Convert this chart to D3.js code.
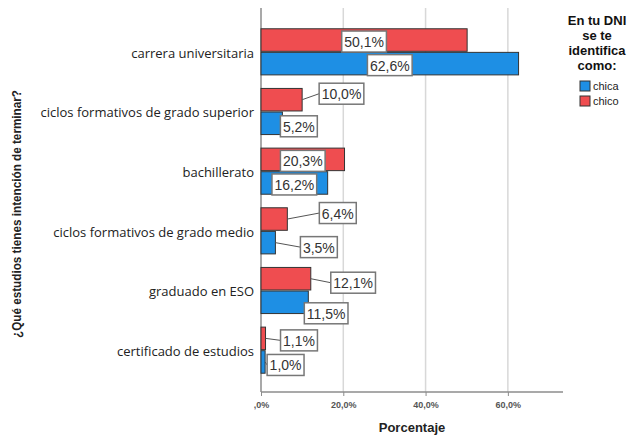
<!DOCTYPE html>
<html>
<head>
<meta charset="utf-8">
<script src="https://cdn.jsdelivr.net/npm/d3@7"></script>
<style>
  html, body { margin: 0; padding: 0; background: #fff; }
  svg { display: block; }
</style>
</head>
<body>
<div id="chart"></div>
<script>
// Intended studies by gender (percent of each group)
const categories = [
  "carrera universitaria",
  "ciclos formativos de grado superior",
  "bachillerato",
  "ciclos formativos de grado medio",
  "graduado en ESO",
  "certificado de estudios"
];
const seriesNames = ["chico", "chica"];
const chicoValues = [50.1, 10.0, 20.3, 6.4, 12.1, 1.1];
const chicaValues = [62.6, 5.2, 16.2, 3.5, 11.5, 1.0];
const tickValues = [0, 20, 40, 60];
const tickLabels = [",0%", "20,0%", "40,0%", "60,0%"];
const legendOrder = ["chica", "chico"];

// Label nudges for bars too short to hold their label: [dx from bar end, dy from bar centre]
const chicoNudge = [null, [17, -6], null, [32, -6], [20, 4], [15, 2]];
const chicaNudge = [null, [-2, 3], null, [25, 4.5], [-4, 11], [2, 3]];

const colors = { chica: "#1e8fe4", chico: "#ef4d50" };

const W = 634, H = 439;
const plot = { left: 261, right: 563, top: 8, bottom: 392 };

const svg = d3.select("#chart").append("svg")
  .attr("width", W).attr("height", H);

const x = d3.scaleLinear().domain([0, 73.4]).range([plot.left, plot.right]);
const y = d3.scaleBand().domain(categories)
  .range([22, 380]).paddingInner(0.227).paddingOuter(0.1135);
const ySub = d3.scaleBand().domain(seriesNames)
  .range([0, y.bandwidth()]).paddingInner(0.045);

// gridlines
svg.append("g").selectAll("line")
  .data(tickValues.filter(d => d > 0))
  .join("line")
  .attr("x1", d => x(d)).attr("x2", d => x(d))
  .attr("y1", plot.top).attr("y2", plot.bottom)
  .attr("stroke", "#d8d8d8").attr("stroke-width", 1.5);

// x axis
const xAxis = d3.axisBottom(x)
  .tickValues(tickValues)
  .tickFormat((d, i) => tickLabels[i])
  .tickSize(4).tickPadding(6);
const gx = svg.append("g")
  .attr("transform", `translate(0,${plot.bottom})`)
  .call(xAxis);
gx.select(".domain").attr("stroke", "#8c8c8c").attr("stroke-width", 1.5)
  .attr("d", `M${plot.left},0H${plot.right}`);
gx.selectAll(".tick line").attr("stroke", "#8c8c8c");
gx.selectAll(".tick text")
  .attr("font-family", "Liberation Sans, Arial, sans-serif")
  .attr("font-size", 9).attr("font-weight", "bold").attr("fill", "#555");

// y axis line
svg.append("line")
  .attr("x1", plot.left).attr("x2", plot.left)
  .attr("y1", plot.top).attr("y2", plot.bottom)
  .attr("stroke", "#8c8c8c").attr("stroke-width", 1.5);

// category labels
const yAxis = d3.axisLeft(y).tickSize(0).tickPadding(7);
const gy = svg.append("g").attr("transform", `translate(${plot.left},1.5)`).call(yAxis);
gy.select(".domain").remove();
gy.selectAll(".tick text")
  .attr("font-family", "Open Sans, sans-serif")
  .attr("font-size", 13).attr("fill", "#222");

// bars
const rows = categories.map((c, i) => ({
  cat: c,
  items: [
    { s: "chico", v: chicoValues[i], nudge: chicoNudge[i] },
    { s: "chica", v: chicaValues[i], nudge: chicaNudge[i] }
  ]
}));

const groups = svg.append("g").selectAll("g")
  .data(rows).join("g")
  .attr("transform", d => `translate(0,${y(d.cat)})`);

groups.selectAll("rect")
  .data(d => d.items).join("rect")
  .attr("x", x(0))
  .attr("y", d => ySub(d.s))
  .attr("width", d => x(d.v) - x(0))
  .attr("height", ySub.bandwidth())
  .attr("fill", d => colors[d.s])
  .attr("stroke", "#333").attr("stroke-width", 1);

// value labels
const fmt = v => v.toFixed(1).replace(".", ",") + "%";
const labels = groups.selectAll("g.lbl")
  .data(d => d.items).join("g").attr("class", "lbl");

labels.each(function(d) {
  const g = d3.select(this);
  const txt = g.append("text")
    .text(fmt(d.v))
    .attr("font-family", "Liberation Sans, Arial, sans-serif")
    .attr("font-size", 14).attr("fill", "#333")
    .attr("dominant-baseline", "central")
    .attr("text-anchor", "middle");
  const tw = txt.node().getComputedTextLength();
  const bw = tw + 5, bh = 21;
  const barEnd = x(d.v);
  const barMid = ySub(d.s) + ySub.bandwidth() / 2;
  let cx, cy;
  if (d.nudge) {
    const left = barEnd + d.nudge[0];
    cx = left + bw / 2;
    cy = barMid + d.nudge[1];
    if (d.nudge[0] > 0) {
      g.insert("line", "text")
        .attr("x1", barEnd).attr("y1", barMid)
        .attr("x2", left).attr("y2", cy)
        .attr("stroke", "#555").attr("stroke-width", 1);
    }
  } else {
    cx = (x(0) + barEnd) / 2;
    cy = barMid + 1.5;
  }
  g.insert("rect", "text")
    .attr("x", cx - bw / 2).attr("y", cy - bh / 2)
    .attr("width", bw).attr("height", bh)
    .attr("fill", "#fff").attr("stroke", "#777").attr("stroke-width", 1.5);
  txt.attr("x", cx).attr("y", cy + 0.5);
});

// axis titles
svg.append("text")
  .attr("x", (plot.left + plot.right) / 2).attr("y", 432)
  .attr("text-anchor", "middle")
  .attr("font-family", "Liberation Sans, Arial, sans-serif")
  .attr("font-size", 13).attr("font-weight", "bold").attr("fill", "#222")
  .text("Porcentaje");

svg.append("text")
  .attr("transform", "translate(21,214) rotate(-90)")
  .attr("text-anchor", "middle")
  .attr("font-family", "Liberation Sans, Arial, sans-serif")
  .attr("font-size", 13).attr("font-weight", "bold").attr("fill", "#222")
  .attr("textLength", 248).attr("lengthAdjust", "spacingAndGlyphs")
  .text("¿Qué estudios tienes intención de terminar?");

// legend
const legendTitle = ["En tu DNI", "se te", "identifica", "como:"];
svg.append("g").selectAll("text")
  .data(legendTitle).join("text")
  .attr("x", 597).attr("y", (d, i) => 25 + i * 15)
  .attr("text-anchor", "middle")
  .attr("font-family", "Liberation Sans, Arial, sans-serif")
  .attr("font-size", 13).attr("font-weight", "bold").attr("fill", "#111")
  .text(d => d);

const leg = svg.append("g").selectAll("g")
  .data(legendOrder).join("g")
  .attr("transform", (d, i) => `translate(580,${81 + i * 15})`);
leg.append("rect")
  .attr("width", 10).attr("height", 10)
  .attr("fill", d => colors[d]).attr("stroke", "#333").attr("stroke-width", 1);
leg.append("text")
  .attr("x", 13).attr("y", 5).attr("dominant-baseline", "central")
  .attr("font-family", "Liberation Sans, Arial, sans-serif")
  .attr("font-size", 11).attr("fill", "#222")
  .text(d => d);
</script>
</body>
</html>
